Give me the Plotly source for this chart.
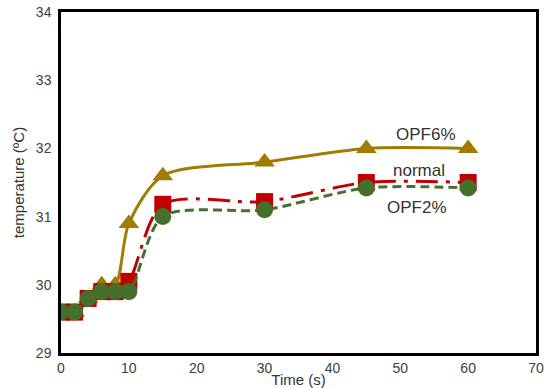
import plotly.graph_objects as go

time_s = [0, 2, 4, 6, 8, 10, 15, 30, 45, 60]
opf6 = [29.6, 29.6, 29.8, 30.0, 30.0, 30.9, 31.6, 31.8, 32.0, 32.0]
normal = [29.6, 29.6, 29.8, 29.9, 29.9, 30.05, 31.18, 31.22, 31.5, 31.5]
opf2 = [29.6, 29.6, 29.8, 29.9, 29.9, 29.9, 31.0, 31.1, 31.42, 31.42]

x_ticks = [0, 10, 20, 30, 40, 50, 60, 70]
y_ticks = [29, 30, 31, 32, 33, 34]

gold = "#A07C00"
red = "#C00000"
green = "#44702C"

fig = go.Figure()
fig.add_trace(go.Scatter(x=time_s, y=opf6, mode="lines+markers", name="OPF6%",
                         line=dict(color=gold, width=3, shape="spline", smoothing=0.8),
                         marker=dict(symbol="triangle-up", size=18, color=gold)))
fig.add_trace(go.Scatter(x=time_s, y=normal, mode="lines+markers", name="normal",
                         line=dict(color=red, width=3, shape="spline", smoothing=0.8,
                                   dash="22px,8px,4px,8px"),
                         marker=dict(symbol="square", size=17, color=red)))
fig.add_trace(go.Scatter(x=time_s, y=opf2, mode="lines+markers", name="OPF2%",
                         line=dict(color=green, width=3, shape="spline", smoothing=0.8,
                                   dash="9px,5px"),
                         marker=dict(symbol="circle", size=17, color=green)))

font_txt = dict(family="Liberation Sans, Arial, sans-serif", size=17, color="#333333")
fig.add_annotation(x=53.8, y=32.2, text="OPF6%", showarrow=False, font=font_txt)
fig.add_annotation(x=52.75, y=31.68, text="normal", showarrow=False, font=font_txt)
fig.add_annotation(x=52.5, y=31.14, text="OPF2%", showarrow=False, font=font_txt)

axis_font = dict(family="Liberation Sans, Arial, sans-serif", size=14, color="#404040")
title_font = dict(family="Liberation Sans, Arial, sans-serif", size=15, color="#333333")
fig.update_layout(
    width=545, height=388,
    margin=dict(l=61, r=9, t=12, b=35),
    paper_bgcolor="white", plot_bgcolor="white",
    showlegend=False,
    xaxis=dict(range=[0, 70], tickvals=x_ticks, showgrid=False, zeroline=False,
               showline=True, mirror=True, linecolor="black", linewidth=2.5,
               ticks="", tickfont=axis_font, automargin=False,
               title=dict(text="Time (s)", font=title_font, standoff=0)),
    yaxis=dict(range=[29, 34], tickvals=y_ticks, showgrid=False, zeroline=False,
               showline=True, mirror=True, linecolor="black", linewidth=2.5,
               ticks="", tickfont=axis_font, automargin=False, ticklabelstandoff=4,
               title=dict(text="temperature (ºC)", font=title_font, standoff=8)),
)

fig.write_html("out.html", config={"displayModeBar": False},
               post_script="document.body.style.margin='0';document.body.style.overflow='hidden';")
